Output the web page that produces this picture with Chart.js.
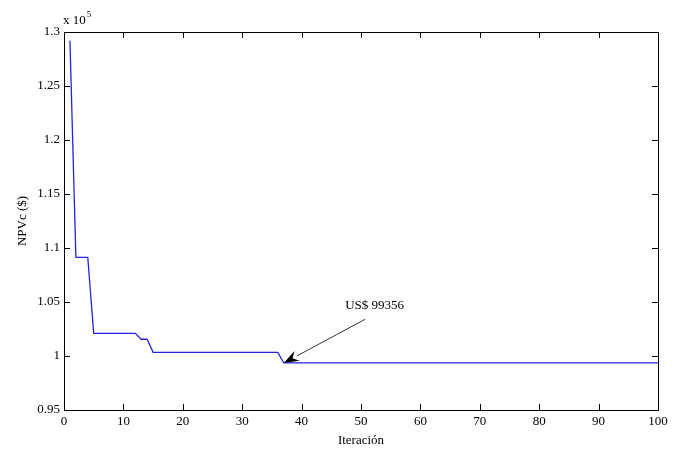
<!DOCTYPE html>
<html lang="es">
<head>
  <meta charset="UTF-8" />
  <title>NPVc por iteración</title>
  <style>
    * { margin: 0; padding: 0; box-sizing: border-box; }
    body { background: #fff; }
    .chart-box { width: 678px; height: 450px; }
  </style>
</head>
<body>
  <div class="chart-box">
    <canvas id="npvChart" width="678" height="450"></canvas>
  </div>

  <script src="https://cdn.jsdelivr.net/npm/chart.js"></script>
  <script>
    // Data (NPVc in $, plotted in units of 10^5)
    const iterations = [1, 2, 4, 5, 12, 13, 14, 15, 36, 37, 100];
    const npvc = [129200, 109140, 109140, 102100, 102100, 101550, 101550, 100340, 100340, 99356, 99356];
    const xTicks = [0, 10, 20, 30, 40, 50, 60, 70, 80, 90, 100];
    const yTicks = [0.95, 1, 1.05, 1.1, 1.15, 1.2, 1.25, 1.3];
    const scaleFactor = 1e5;

    // Annotation: text and arrow tail in data coords, arrow tip at the minimum
    const noteText = 'US$ 99356';
    const noteTextAt = [52.3, 1.047];
    const noteTail = [50.7, 1.034];
    const noteTip = [37, 0.99356];

    const serif = '"Liberation Serif", "DejaVu Serif", serif';

    const points = iterations.map((it, i) => ({ x: it, y: npvc[i] / scaleFactor }));

    // Frame, inward ticks on all sides, the "x 10^5" exponent and the arrow
    const matlabAxes = {
      id: 'matlabAxes',
      afterDatasetsDraw(chart) {
        const { ctx, chartArea: a, scales: { x, y } } = chart;
        ctx.save();
        ctx.strokeStyle = '#000';
        ctx.lineWidth = 1;
        ctx.beginPath();
        xTicks.forEach(v => {
          const px = Math.round(x.getPixelForValue(v)) + 0.5;
          ctx.moveTo(px, a.bottom); ctx.lineTo(px, a.bottom - 6);
          ctx.moveTo(px, a.top); ctx.lineTo(px, a.top + 6);
        });
        yTicks.forEach(v => {
          const py = Math.round(y.getPixelForValue(v)) + 0.5;
          ctx.moveTo(a.left, py); ctx.lineTo(a.left + 6, py);
          ctx.moveTo(a.right, py); ctx.lineTo(a.right - 6, py);
        });
        ctx.stroke();
        ctx.strokeRect(Math.round(a.left) + 0.5, Math.round(a.top) + 0.5,
                       Math.round(a.right - a.left), Math.round(a.bottom - a.top));

        // exponent label
        ctx.fillStyle = '#000';
        ctx.textBaseline = 'alphabetic';
        ctx.textAlign = 'left';
        ctx.font = '13px ' + serif;
        ctx.fillText('x 10', a.left - 1, a.top - 8);
        const w = ctx.measureText('x 10').width;
        ctx.font = '9px ' + serif;
        ctx.fillText('5', a.left - 1 + w + 1, a.top - 15);

        // annotation text
        ctx.font = '13px ' + serif;
        ctx.textAlign = 'center';
        ctx.textBaseline = 'middle';
        ctx.fillText(noteText, x.getPixelForValue(noteTextAt[0]), y.getPixelForValue(noteTextAt[1]));

        // arrow
        const tx = x.getPixelForValue(noteTail[0]), ty = y.getPixelForValue(noteTail[1]);
        const hx = x.getPixelForValue(noteTip[0]), hy = y.getPixelForValue(noteTip[1]);
        const ang = Math.atan2(hy - ty, hx - tx);
        const len = 15, half = 5.5;
        const bx = hx - len * Math.cos(ang), by = hy - len * Math.sin(ang);
        ctx.strokeStyle = '#333';
        ctx.beginPath();
        ctx.moveTo(tx, ty); ctx.lineTo(bx, by);
        ctx.stroke();
        ctx.fillStyle = '#000';
        ctx.beginPath();
        ctx.moveTo(hx, hy);
        ctx.lineTo(bx + half * Math.sin(ang), by - half * Math.cos(ang));
        ctx.lineTo(bx + 5 * Math.cos(ang), by + 5 * Math.sin(ang));
        ctx.lineTo(bx - half * Math.sin(ang), by + half * Math.cos(ang));
        ctx.closePath();
        ctx.fill();
        ctx.restore();
      }
    };

    const ctx = document.getElementById('npvChart').getContext('2d');
    new Chart(ctx, {
      type: 'line',
      data: {
        datasets: [{
          label: 'NPVc',
          data: points,
          borderColor: '#2323e0',
          borderWidth: 1.3,
          pointRadius: 0,
          fill: false,
          tension: 0
        }]
      },
      options: {
        responsive: false,
        animation: false,
        events: [],
        layout: { padding: { top: 32, right: 20, left: 0, bottom: 0 } },
        plugins: {
          legend: { display: false },
          tooltip: { enabled: false }
        },
        scales: {
          x: {
            type: 'linear',
            min: 0,
            max: 100,
            afterFit: s => { s.height = 40; },
            afterBuildTicks: s => { s.ticks = xTicks.map(v => ({ value: v })); },
            grid: { display: false, drawTicks: false },
            border: { display: false },
            ticks: { color: '#000', padding: 4, maxRotation: 0, font: { family: serif, size: 13 } },
            title: { display: true, text: 'Iteración', color: '#000', padding: { top: 0, bottom: 2 }, font: { family: serif, size: 13 } }
          },
          y: {
            type: 'linear',
            min: 0.95,
            max: 1.3,
            afterFit: s => { s.width = 64; },
            afterBuildTicks: s => { s.ticks = yTicks.map(v => ({ value: v })); },
            grid: { display: false, drawTicks: false },
            border: { display: false },
            ticks: {
              color: '#000',
              padding: 4,
              font: { family: serif, size: 13 },
              callback: v => String(parseFloat(v.toFixed(2)))
            },
            title: { display: true, text: 'NPVc ($)', color: '#000', padding: { top: 15, bottom: 0 }, font: { family: serif, size: 13 } }
          }
        }
      },
      plugins: [matlabAxes]
    });
  </script>
</body>
</html>
